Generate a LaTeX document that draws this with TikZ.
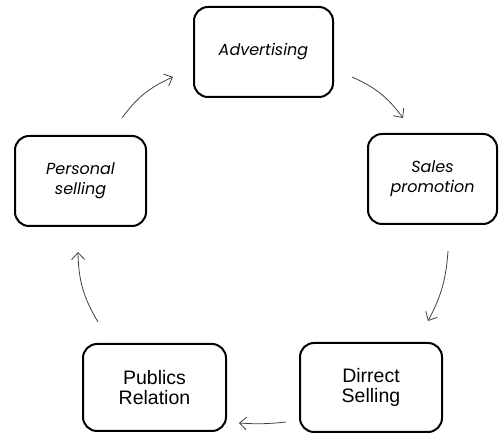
\documentclass[tikz,border=0pt]{standalone}
\usepackage{fontspec}
\setsansfont{Liberation Sans}
\newfontfamily\geofont{Poppins}
\usetikzlibrary{arrows.meta}

\begin{document}
\begin{tikzpicture}[x=1pt, y=-1pt,
        stage/.style={draw, line width=2pt, rounded corners=14pt, fill=white,
            outer sep=0pt, inner sep=0pt, align=center},
        soft/.style={stage, font=\geofont\itshape\fontsize{16}{20}\selectfont},
        hard/.style={stage, font=\sffamily\fontsize{19.5}{20.5}\selectfont},
        flow/.style={draw=black!75, line width=0.8pt,
            -{Straight Barb[length=7pt,width=13pt]}}]
            \useasboundingbox (0,0) rectangle (499,435);

            % the five stages, clockwise from the top
            \node[soft, minimum width=139pt, minimum height=90pt] (adv) at (263.5,52) {Advertising};
            \node[soft, minimum width=129pt, minimum height=90pt] (sal) at (432.5,179) {Sales\\promotion};
            \node[hard, minimum width=142pt, minimum height=89pt] (dir) at (371,387.5) {Dirrect\\Selling};
            \node[hard, minimum width=143pt, minimum height=87pt] (pub) at (154.5,387.5) {Publics\\Relation};
            \node[soft, minimum width=131pt, minimum height=90pt] (per) at (80.5,181) {Personal\\selling};

            % arrows round the cycle
            \draw[flow] ([xshift=41.5pt,yshift=18pt]per.north) to[bend left=15] ([xshift=-21pt,yshift=-25pt]adv.west);
            \draw[flow] ([xshift=19pt,yshift=-25pt]adv.east) to[bend left=15] ([xshift=-29.5pt,yshift=16pt]sal.north);
            \draw[flow] ([xshift=15.5pt,yshift=-27pt]sal.south) to[bend left=12] ([xshift=-14pt,yshift=22pt]dir.north east);
            \draw[flow] ([xshift=-14pt,yshift=10pt]dir.south west) to[bend left=5] ([xshift=13pt,yshift=8pt]pub.south east);
            \draw[flow] ([xshift=15pt,yshift=22pt]pub.north west) to[bend left=15] ([xshift=-2.5pt,yshift=-26pt]per.south);

        \end{tikzpicture}
\end{document}
